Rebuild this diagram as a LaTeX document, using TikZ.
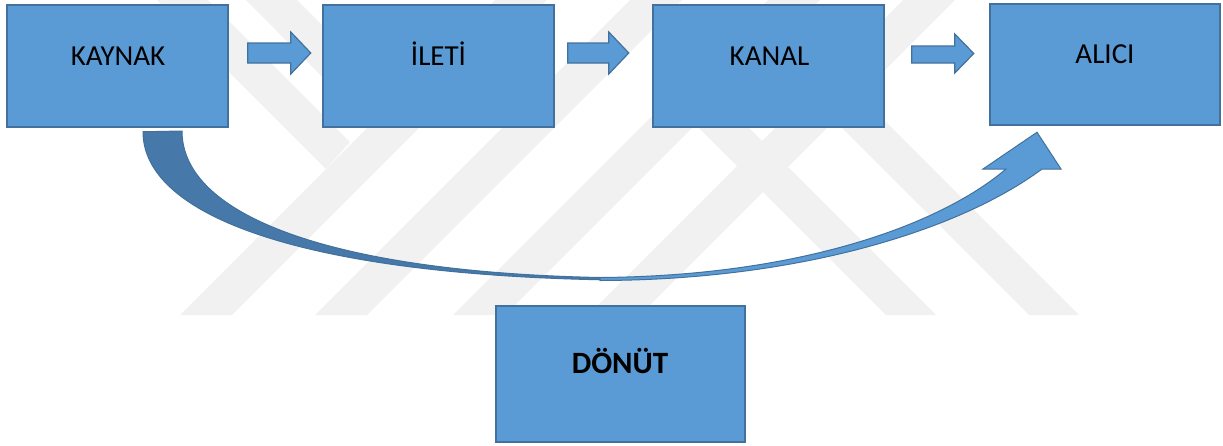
\documentclass[tikz,border=0pt]{standalone}
\usepackage{fontspec}
\setmainfont{Carlito}
\usetikzlibrary{calc}
\definecolor{boxfill}{HTML}{5B9BD5}
\definecolor{boxline}{HTML}{41719C}
\definecolor{darkband}{HTML}{4678A9}
\definecolor{wm}{HTML}{F1F1F1}
\begin{document}
\begin{tikzpicture}[x=1pt,y=-1pt,
  box/.style={draw=boxline, line width=1.5pt, fill=boxfill, inner sep=0pt},
  lbl/.style={font=\fontsize{29}{31}\selectfont, anchor=base, inner sep=0pt},
  blockarr/.style={draw=boxline, line width=1.2pt, fill=boxfill, line join=miter},
  curvearr/.style={draw=boxline, line width=1pt, line join=miter},
  wmark/.style={fill=wm, draw=none}]
\useasboundingbox (0,0) rectangle (1223,445);

% faint background watermark
\fill[wmark] (180,315) -- (232,315) -- (547,0) -- (495,0) -- cycle;
\fill[wmark] (315,315) -- (367,315) -- (682,0) -- (630,0) -- cycle;
\fill[wmark] (453,315) -- (505,315) -- (820,0) -- (768,0) -- cycle;
\fill[wmark] (588,315) -- (640,315) -- (955,0) -- (903,0) -- cycle;
\fill[wmark] (157,0) -- (208,0) -- (350,142) -- (326,169) -- cycle;
\fill[wmark] (246,0) -- (297,0) -- (396,99) -- (370,125) -- cycle;
\fill[wmark] (661,90) -- (711,90) -- (936,315) -- (886,315) -- cycle;
\fill[wmark] (774,60) -- (824,60) -- (1079,315) -- (1029,315) -- cycle;

% boxes
\node[box, minimum width=221pt, minimum height=122pt] (kaynak) at (117.5,66) {};
\node[box, minimum width=231pt, minimum height=122pt] (ileti) at (438.5,66) {};
\node[box, minimum width=231pt, minimum height=122pt] (kanal) at (768.5,66) {};
\node[box, minimum width=230pt, minimum height=121pt] (alici) at (1105,64.5) {};
\node[box, minimum width=249pt, minimum height=136pt] (donut) at (620.5,374) {};

% labels
\node[lbl] (kaynakT) at (118,65) {KAYNAK};
\node[lbl] (iletiT) at (438.5,65) {İLETİ};
\node[lbl] (kanalT) at (769.5,65) {KANAL};
\node[lbl] (aliciT) at (1105,63) {ALICI};
\node[lbl, font=\fontsize{31}{33}\selectfont\bfseries] (donutT) at (620,373.5) {DÖNÜT};

% block arrows between boxes
\draw[blockarr] ($(kaynak.east)+(19,-23)$) -- ++(43,0) -- ++(0,-11) -- ++(20,21) -- ++(-20,21) -- ++(0,-11) -- ++(-43,0) -- cycle;
\draw[blockarr] ($(ileti.east)+(13,-23)$) -- ++(41,0) -- ++(0,-11) -- ++(20,21) -- ++(-20,21) -- ++(0,-11) -- ++(-41,0) -- cycle;
\draw[blockarr] ($(kanal.east)+(27,-20)$) -- ++(43,0) -- ++(0,-12) -- ++(19,19.5) -- ++(-19,19.5) -- ++(0,-10) -- ++(-43,0) -- cycle;

% curved feedback arrow
\coordinate (fbA) at ($(kaynak.south)+(25.5,4)$);
\coordinate (fbB) at ($(alici.south)+(-68,6.5)$);
\filldraw[curvearr, fill=darkband] (fbA) .. controls (143,215) and (300,275) .. (612,280) -- (600,277.5) .. controls (330,272) and (182,215) .. (182,131) -- cycle;
\filldraw[curvearr, fill=boxfill] (600,280.5) .. controls (800,280) and (960,230) .. (1042,169) -- (1061,169) -- (fbB) -- (983,169) -- (1006,169) .. controls (940,225) and (800,276) .. (600,277.5) -- cycle;
\end{tikzpicture}
\end{document}
